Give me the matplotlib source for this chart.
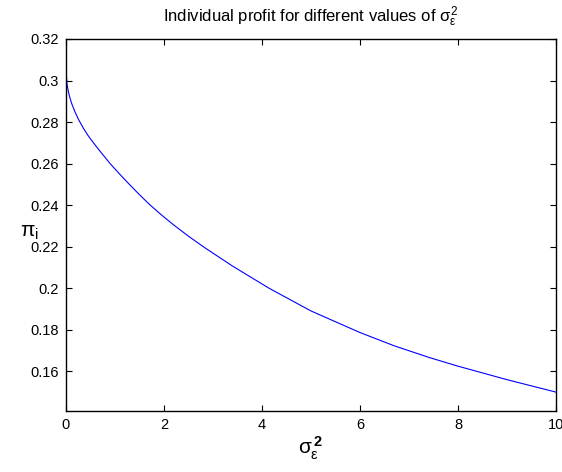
#!/usr/bin/env python3
# -*-coding:utf-8 -*

"""
Individual profit pi_i against the noise variance sigma_eps^2.
"""

import matplotlib
matplotlib.use("Agg")
from matplotlib import pyplot as plt

plt.rcParams['font.family'] = ['Liberation Sans', 'DejaVu Sans']
plt.rcParams['mathtext.fontset'] = 'custom'
plt.rcParams['mathtext.rm'] = 'Liberation Sans'
plt.rcParams['mathtext.it'] = 'Liberation Sans'
plt.rcParams['mathtext.bf'] = 'Liberation Sans:bold'

# values
sigma2 = [0.0, 0.02, 0.05, 0.08, 0.12, 0.18, 0.25, 0.35, 0.45, 0.56, 0.7,
          0.9, 1.1, 1.3, 1.5, 1.7, 1.95, 2.2, 2.5, 2.83, 3.4, 4.14, 5.0,
          6.0, 6.7, 7.41, 8.0, 9.0, 10.0]
profit = [0.3050, 0.2984, 0.2945, 0.2917, 0.2887, 0.2851, 0.2815, 0.2772,
          0.2735, 0.2700, 0.2658, 0.2600, 0.2548, 0.2498, 0.2450, 0.2404,
          0.2352, 0.2304, 0.2250, 0.2195, 0.2106, 0.2000, 0.1890, 0.1786,
          0.1722, 0.1666, 0.1624, 0.1559, 0.1499]

xticks = [0, 2, 4, 6, 8, 10]
yticks = [0.16, 0.18, 0.2, 0.22, 0.24, 0.26, 0.28, 0.3, 0.32]
ytick_labels = ['0.16', '0.18', '0.2', '0.22', '0.24', '0.26', '0.28', '0.3', '0.32']

fig = plt.figure(figsize=(5.62, 4.72), dpi=100)
ax = fig.add_axes([0.1174, 0.1292, 0.8719, 0.7882])

ax.plot(sigma2, profit, color='#0000ff', linewidth=0.8)

ax.set_xlim(0, 10)
ax.set_ylim(0.1408, 0.32)
ax.set_xticks(xticks)
ax.set_xticklabels([str(t) for t in xticks])
ax.set_yticks(yticks)
ax.set_yticklabels(ytick_labels)
ax.tick_params(direction='in', top=True, right=True, length=4, width=0.8,
               labelsize=10.5, pad=5, colors='black')
for s in ax.spines.values():
    s.set_linewidth(1.0)

ax.set_title(r'Individual profit for different values of $\sigma_\varepsilon^2$',
             fontsize=12, pad=12)
ax.set_xlabel(r'$\sigma_\varepsilon^{\,\mathbf{2}}$', fontsize=15, labelpad=2)
ax.set_ylabel(r'$\pi_\mathrm{i}$', fontsize=15, rotation=0, va='center')
ax.yaxis.set_label_coords(-0.075, 0.48)

fig.savefig('out.png', dpi=100)
